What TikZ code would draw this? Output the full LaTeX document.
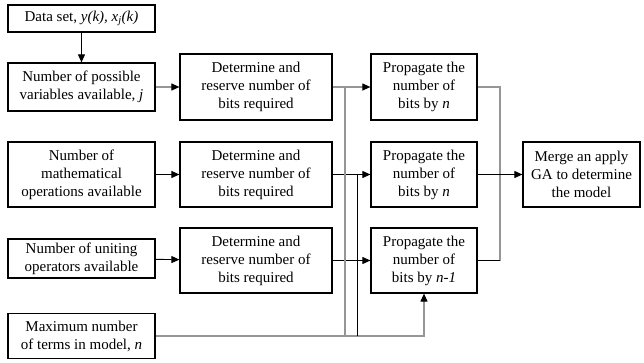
\documentclass[tikz,border=0pt]{standalone}
\usepackage{fontspec}
\setmainfont{Liberation Serif}
\usetikzlibrary{arrows.meta}
\definecolor{lgray}{RGB}{150,150,150}
\begin{document}
\begin{tikzpicture}[x=1pt,y=-1pt,
  box/.style={draw=black,line width=1.2pt,rectangle,inner sep=0pt,align=center,
    font=\fontsize{15}{18}\selectfont},
  tip/.style={-{Triangle[length=8pt,width=7pt,color=black]}},
  bline/.style={draw=black,line width=0.9pt},
  gline/.style={draw=lgray,line width=1.1pt},
  barr/.style={bline,tip},
  garr/.style={gline,tip}]
\useasboundingbox (0,0) rectangle (644,362);
% left column
\node[box,minimum width=147pt,minimum height=27pt] (ds) at (81.5,18.5) {Data set, \textit{y(k), x\textsubscript{j}(k)}};
\node[box,minimum width=147pt,minimum height=48pt] (nv) at (81.5,87) {Number of possible\\variables available, \textit{j}};
\node[box,minimum width=147pt,minimum height=65pt] (mo) at (81.5,174.5) {Number of\\mathematical\\operations available};
\node[box,minimum width=147pt,minimum height=39pt] (uo) at (81.5,258.5) {Number of uniting\\operators available};
\node[box,minimum width=147pt,minimum height=45pt] (mx) at (81.5,336) {Maximum number\\of terms in model, \textit{n}};
% determine column
\node[box,minimum width=152pt,minimum height=66pt] (d1) at (256,87) {Determine and\\reserve number of\\bits required};
\node[box,minimum width=152pt,minimum height=65pt] (d2) at (256,174.5) {Determine and\\reserve number of\\bits required};
\node[box,minimum width=152pt,minimum height=65pt] (d3) at (256,260.5) {Determine and\\reserve number of\\bits required};
% propagate column
\node[box,minimum width=106pt,minimum height=66pt] (p1) at (424,87) {Propagate the\\number of\\bits by \textit{n}};
\node[box,minimum width=106pt,minimum height=65pt] (p2) at (424,174.5) {Propagate the\\number of\\bits by \textit{n}};
\node[box,minimum width=106pt,minimum height=65pt] (p3) at (424,260.5) {Propagate the\\number of\\bits by \textit{n-1}};
% merge
\node[box,minimum width=117pt,minimum height=65pt] (mg) at (581.5,174.5) {Merge an apply\\GA to determine\\the model};
% junction coordinates
\coordinate (j1) at (345,336);
\coordinate (j2) at (357,336);
\coordinate (mc) at (500,0);
% connectors
\draw[barr] (ds) -- (nv);
\draw[garr] (nv) -- (d1);
\draw[barr] (mo) -- (d2);
\draw[barr] (uo) -- (d3);
\draw[garr] (d1) -- (p1);
\draw[barr] (d2) -- (p2);
\draw[barr] (d3) -- (p3);
\draw[garr] (mx.east) -| (p3.south);
\draw[gline] (j1) -- (j1 |- d1.east);
\draw[bline] (j2) -- (j2 |- d2.east);
\draw[gline] (p1.east) -- (mc |- p1.east) -- (mc |- p3.east);
\draw[bline] (p3.east) -- (mc |- p3.east);
\draw[barr] (p2) -- (mg);
\end{tikzpicture}
\end{document}
